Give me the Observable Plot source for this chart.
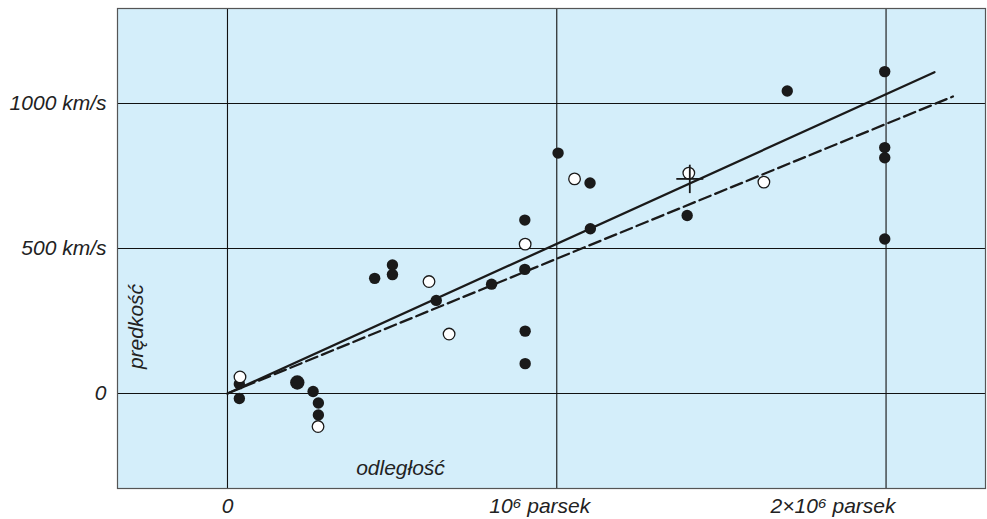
<!DOCTYPE html>
<html>
<head>
<meta charset="utf-8">
<script src="https://cdn.jsdelivr.net/npm/d3@7"></script>
<script src="https://cdn.jsdelivr.net/npm/@observablehq/plot@0.6"></script>
<style>
  html, body { margin: 0; padding: 0; background: #fff; }
</style>
</head>
<body>
<div id="chart"></div>
<script>
// distance in units of 10^6 parsec, velocity in km/s
const filledX = [0.036, 0.036, 0.26, 0.276, 0.276, 0.447, 0.501, 0.501, 0.634, 0.802, 0.903, 0.903, 0.904, 0.904, 1.004, 1.101, 1.102, 1.396, 1.70, 1.996, 1.996, 1.996, 1.996];
const filledY = [-17, 33, 7, -33, -74, 397, 443, 410, 321, 377, 598, 428, 215, 103, 829, 726, 568, 614, 1043, 1110, 848, 813, 533];
const bigX = [0.212];
const bigY = [38];
const openX = [0.038, 0.275, 0.612, 0.673, 0.904, 1.054, 1.401, 1.629];
const openY = [57, -114, 386, 205, 515, 740, 760, 729];
const crossX = [1.404];
const crossY = [740];
const crossErrX = [0.041];
const crossErrY = [49];
const solidLineX = [0, 2.147];
const solidLineY = [0, 1108];
const dashedLineX = [0, 2.203];
const dashedLineY = [0, 1024];
const yTicks = [0, 500, 1000];
const yTickLabels = ["0", "500 km/s", "1000 km/s"];
const xTicks = [0, 1, 2];
const xTickLabels = ["0", "10\u2076 parsek", "2\u00d710\u2076 parsek"];

const filled = filledX.map((x, i) => ({x, y: filledY[i]}));
const big = bigX.map((x, i) => ({x, y: bigY[i]}));
const open = openX.map((x, i) => ({x, y: openY[i]}));
const cross = crossX.map((x, i) => ({x, y: crossY[i], ex: crossErrX[i], ey: crossErrY[i]}));
const solid = solidLineX.map((x, i) => ({x, y: solidLineY[i]}));
const dashed = dashedLineX.map((x, i) => ({x, y: dashedLineY[i]}));

const fs = 21;
const chart = Plot.plot({
  width: 987,
  height: 519,
  marginLeft: 117,
  marginRight: 2,
  marginTop: 8,
  marginBottom: 31,
  style: {fontFamily: "'Liberation Sans', Arial, sans-serif", fontStyle: "italic", fontSize: fs + "px", color: "#222"},
  x: {domain: [-0.334, 2.302], axis: null},
  y: {domain: [-327.6, 1327.6], axis: null},
  marks: [
    Plot.frame({fill: "#d4eefa"}),
    Plot.gridX(xTicks, {stroke: "#111", strokeOpacity: 1, strokeWidth: 1.1}),
    Plot.gridY(yTicks, {stroke: "#111", strokeOpacity: 1, strokeWidth: 1.1}),
    Plot.frame({stroke: "#555", strokeWidth: 1.2}),
    Plot.axisY(yTicks, {tickSize: 0, tickPadding: 11, tickFormat: (d) => yTickLabels[yTicks.indexOf(d)], fontSize: fs, label: null, fill: "#222"}),
    Plot.text([0], {x: () => xTicks[0], text: () => xTickLabels[0], frameAnchor: "bottom", dy: 18, lineAnchor: "middle", fontSize: fs, fill: "#222"}),
    Plot.text([1], {x: () => xTicks[1], text: () => xTickLabels[1], frameAnchor: "bottom", dy: 18, dx: -17, lineAnchor: "middle", fontSize: fs, fill: "#222"}),
    Plot.text([2], {x: () => xTicks[2], text: () => xTickLabels[2], frameAnchor: "bottom", dy: 18, dx: -53, lineAnchor: "middle", fontSize: fs, fill: "#222"}),
    Plot.text(["prędkość"], {frameAnchor: "left", dx: 19, dy: 78, rotate: -90, text: d => d, lineAnchor: "middle", textAnchor: "middle", fontSize: fs, fill: "#222"}),
    Plot.text(["odległość"], {frameAnchor: "bottom-left", dx: 283, dy: -20, text: d => d, lineAnchor: "middle", textAnchor: "middle", fontSize: fs, fill: "#222"}),
    Plot.line(solid, {x: "x", y: "y", stroke: "#1a1a1a", strokeWidth: 2.3}),
    Plot.line(dashed, {x: "x", y: "y", stroke: "#1a1a1a", strokeWidth: 2.3, strokeDasharray: "12,5"}),
    Plot.dot(filled, {x: "x", y: "y", r: 5.7, fill: "#1a1a1a", stroke: "none"}),
    Plot.dot(big, {x: "x", y: "y", r: 7.2, fill: "#1a1a1a", stroke: "none"}),
    Plot.dot(open, {x: "x", y: "y", r: 5.8, fill: "#fff", stroke: "#1a1a1a", strokeWidth: 1.3}),
    Plot.link(cross, {x1: d => d.x - d.ex, x2: d => d.x + d.ex, y1: "y", y2: "y", stroke: "#1a1a1a", strokeWidth: 1.8}),
    Plot.link(cross, {x1: "x", x2: "x", y1: d => d.y - d.ey, y2: d => d.y + d.ey, stroke: "#1a1a1a", strokeWidth: 1.8})
  ]
});
document.getElementById("chart").appendChild(chart);
</script>
</body>
</html>
